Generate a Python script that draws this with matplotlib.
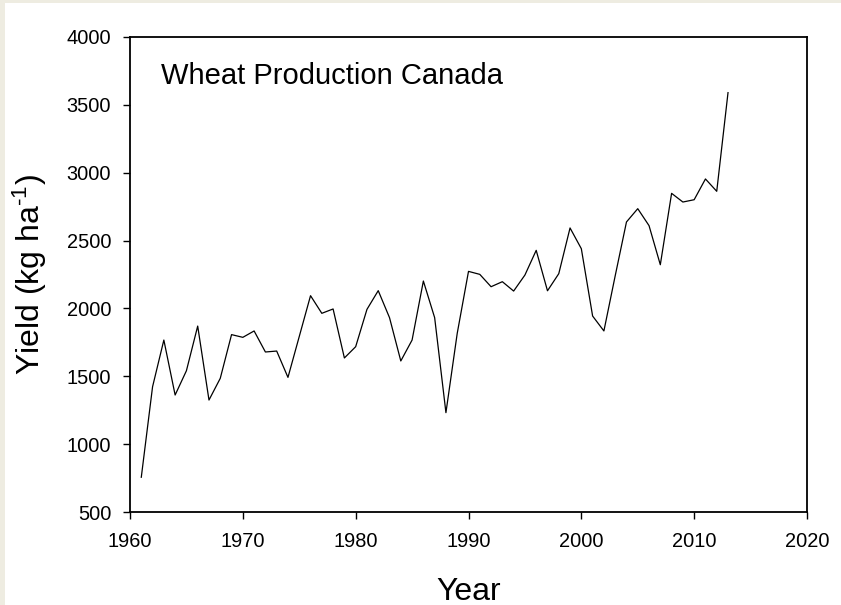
import matplotlib
matplotlib.use("Agg")
import matplotlib.pyplot as plt
from matplotlib.patches import Rectangle

years = list(range(1961, 2014))
yield_kg_ha = [756, 1423, 1767, 1362, 1541, 1870, 1325, 1485, 1807, 1787,
               1834, 1679, 1686, 1492, 1793, 2094, 1964, 1996, 1635, 1718,
               1993, 2131, 1932, 1613, 1767, 2202, 1932, 1232, 1816, 2273,
               2251, 2160, 2197, 2128, 2246, 2428, 2130, 2256, 2593, 2440,
               1944, 1834, 2240, 2637, 2735, 2610, 2322, 2848, 2784, 2801,
               2954, 2863, 3590]
x_ticks = [1960, 1970, 1980, 1990, 2000, 2010, 2020]
y_ticks = [500, 1000, 1500, 2000, 2500, 3000, 3500, 4000]

plt.rcParams['font.family'] = ['Liberation Sans', 'DejaVu Sans']
plt.rcParams['mathtext.fontset'] = 'custom'
plt.rcParams['mathtext.rm'] = 'Liberation Sans'
plt.rcParams['mathtext.it'] = 'Liberation Sans'
plt.rcParams['mathtext.default'] = 'regular'

W, H = 841, 605
fig = plt.figure(figsize=(W / 100, H / 100), dpi=100, facecolor='#EEECE1')
bg = Rectangle((5 / W, 0), (W - 5) / W, (H - 3) / H,
               transform=fig.transFigure, facecolor='white',
               edgecolor='none', zorder=-10)
fig.patches.append(bg)

L, R, T, B = 130, 807, 37, 512
ax = fig.add_axes([L / W, 1 - B / H, (R - L) / W, (B - T) / H])
ax.set_zorder(5)
ax.set_facecolor('white')
ax.plot(years, yield_kg_ha, color='black', lw=0.9)

ax.set_xlim(1960, 2020)
ax.set_ylim(500, 4000)
ax.set_xticks(x_ticks)
ax.set_yticks(y_ticks)
ax.tick_params(axis='both', direction='out', length=5, width=1.0,
               labelsize=14.4, colors='black')
ax.tick_params(axis='x', pad=9.5)
ax.tick_params(axis='y', pad=8.5)
for s in ax.spines.values():
    s.set_linewidth(1.3)
    s.set_color('black')

ax.text((160.7 - L) / (R - L), (B - 84) / (B - T), 'Wheat Production Canada',
        transform=ax.transAxes, fontsize=21, va='baseline', ha='left')

ax.set_xlabel('Year', fontsize=23, va='baseline')
ax.xaxis.set_label_coords(0.5, (B - 600) / (B - T))
ax.set_ylabel('Yield (kg ha$^{\u2010 1}$)', fontsize=23, va='baseline')
ax.yaxis.set_label_coords((40 - L) / (R - L), 0.5)

fig.savefig('out.png', dpi=100, facecolor=fig.get_facecolor())
